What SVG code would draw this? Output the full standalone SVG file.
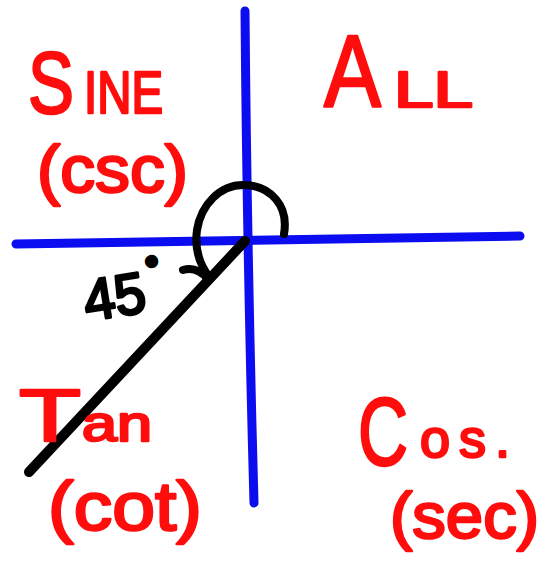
<svg xmlns="http://www.w3.org/2000/svg" width="549" height="563" viewBox="0 0 549 563">
<style>
.lbl{font-family:"Liberation Sans","DejaVu Sans",sans-serif;fill:#ff0d0d;stroke:#ff0d0d;stroke-width:2.5;stroke-linejoin:round}
.deg{font-family:"Liberation Sans","DejaVu Sans",sans-serif;fill:#000;stroke:#000;stroke-width:3;stroke-linejoin:round}
.axis{stroke:#0c0cf0;stroke-width:9;stroke-linecap:round;fill:none}
.ink{stroke:#000;stroke-linecap:round;stroke-linejoin:round;fill:none}
</style>
<rect width="549" height="563" fill="#fff"/>
<g id="axes">
<path class="axis" d="M245,11 Q247,250 254,503"/>
<path class="axis" d="M16,244 Q270,241 520,236"/>
</g>
<g id="angle">
<path class="ink" stroke-width="10" d="M245,241 L29,472"/>
<path class="ink" stroke-width="8" d="M284,234 C289,205 270,186 245,185 C220,184 201,205 197,230 C194,252 202,268 210,278"/>
<path class="ink" stroke-width="8" d="M183,270 C193,267 201,271 208,279"/>
<text class="deg" transform="translate(87,321) rotate(-9)" font-size="58"><tspan textLength="62" lengthAdjust="spacingAndGlyphs">45</tspan><tspan font-size="30" stroke-width="5" dx="5" dy="-32">°</tspan></text>
</g>
<g id="sine">
<text class="lbl" y="113"><tspan x="28" font-size="88" textLength="46" lengthAdjust="spacingAndGlyphs">S</tspan><tspan x="84" font-size="60" textLength="79" lengthAdjust="spacingAndGlyphs">INE</tspan></text>
<text class="lbl" x="37" y="192" font-size="66" textLength="151" lengthAdjust="spacingAndGlyphs">(csc)</text>
</g>
<g id="all">
<text class="lbl" y="107"><tspan x="324" font-size="102" textLength="57" lengthAdjust="spacingAndGlyphs">A</tspan><tspan x="394" font-size="50" textLength="79" lengthAdjust="spacingAndGlyphs">LL</tspan></text>
</g>
<g id="tan">
<text class="lbl" y="441"><tspan x="19" font-size="74" textLength="62" lengthAdjust="spacingAndGlyphs">T</tspan><tspan x="82" font-size="50" textLength="70" lengthAdjust="spacingAndGlyphs">an</tspan></text>
<text class="lbl" x="48" y="530" font-size="69" textLength="154" lengthAdjust="spacingAndGlyphs">(cot)</text>
</g>
<g id="cos">
<text class="lbl" y="465"><tspan x="358" font-size="96" textLength="50" lengthAdjust="spacingAndGlyphs">C</tspan><tspan x="420" y="457" font-size="54" letter-spacing="9">os.</tspan></text>
<text class="lbl" x="390" y="538" font-size="64" textLength="149" lengthAdjust="spacingAndGlyphs">(sec)</text>
</g>
</svg>
